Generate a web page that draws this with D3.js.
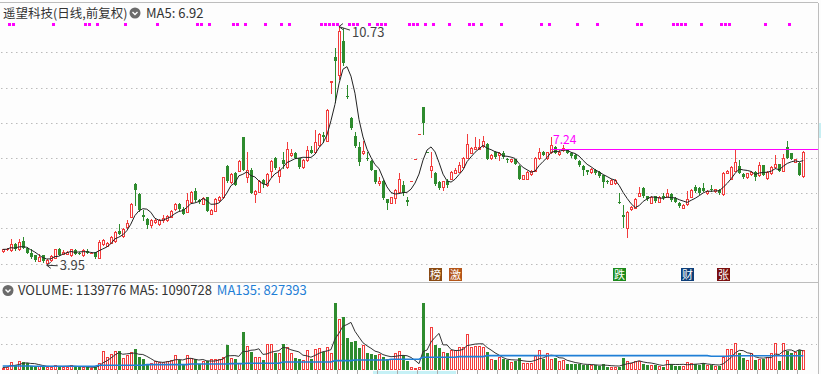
<!DOCTYPE html>
<html>
<head>
<meta charset="utf-8">
<script src="https://cdn.jsdelivr.net/npm/d3@7"></script>
<style>
  body { margin: 0; background: #fdfdfd; }
  svg { display: block; font-family: "Noto Sans CJK SC", "Noto Sans", sans-serif; }
</style>
</head>
<body>
<svg id="chart" width="821" height="374"></svg>
<script>
// Daily candles, forward adjusted
var opens = [4.35,4.40,4.38,4.55,4.40,4.64,4.44,4.31,4.23,4.08, 4.23,4.02,4.09,4.17,4.42,4.28,4.28,4.24,4.38,4.31,
  4.23,4.36,4.31,4.32,4.17,4.55,4.51,4.59,4.64,4.93, 4.78,5.03,5.33,6.26,5.97,5.38,5.27,5.10,5.18,5.12,
  5.23,5.23,5.33,5.55,5.70,5.56,5.47,5.75,6.05,5.80, 5.70,5.88,5.42,5.50,5.80,5.88,6.77,6.32,6.58,6.64,
  7.58,6.45,6.67,5.97,6.04,6.37,6.22,6.64,6.99,6.48, 6.94,6.73,7.07,7.13,6.99,6.73,6.94,7.22,7.17,7.36,
  7.65,7.49,9.17,9.86,9.36,10.33,8.76,8.14,7.62,7.30, 7.13,7.00,6.92,6.65,6.28,6.35,5.82,5.73,5.85,6.04,
  6.23,5.80,6.33,6.96,7.67,8.44,7.18,6.66,6.58,6.32, 6.18,6.33,6.41,6.58,6.61,6.75,7.01,7.15,7.26,7.26,
  7.34,7.39,7.00,7.16,7.07,7.13,6.97,6.90,6.96,6.77, 6.41,6.41,6.55,6.64,7.00,7.18,7.00,7.16,7.32,7.10,
  7.22,7.22,7.15,7.08,6.92,6.77,6.65,6.60,6.67,6.60, 6.50,6.35,6.27,6.28,5.75,5.37,5.02,5.54,5.59,5.93,
  6.14,5.91,5.73,5.91,5.76,5.91,5.90,5.97,5.86,5.72, 5.59,5.69,5.90,6.18,6.14,6.14,5.99,6.12,6.05,6.10,
  5.97,6.58,6.41,6.64,6.77,6.54,6.46,6.54,6.60,6.50, 6.79,6.43,6.56,6.73,6.82,6.64,7.30,7.13,6.89,6.86,
  6.48];
var highs = [4.42,4.44,4.69,4.58,4.71,4.76,4.46,4.40,4.25,4.26, 4.25,4.13,4.23,4.42,4.45,4.37,4.35,4.42,4.41,4.33,
  4.40,4.40,4.33,4.34,4.66,4.71,4.62,4.79,4.92,5.12, 5.01,5.25,5.71,6.29,5.99,5.52,5.29,5.27,5.28,5.27,
  5.37,5.37,5.52,5.73,5.72,5.60,5.99,6.06,6.14,5.82, 5.90,5.90,5.55,5.85,5.93,6.47,6.79,6.56,6.61,6.93,
  7.60,7.16,6.70,6.08,6.36,6.40,6.56,6.93,7.02,6.75, 7.18,7.46,7.24,7.16,7.01,6.96,7.33,7.35,7.79,7.71,
  7.74,8.38,9.19,10.11,10.73,10.70,9.07,8.16,7.74,7.46, 7.49,7.17,6.94,6.67,6.46,6.37,5.84,5.90,6.12,6.56,
  6.34,5.90,6.33,6.96,7.67,8.44,7.18,7.17,6.60,6.34, 6.35,6.40,6.62,6.70,6.89,7.02,7.68,7.30,7.58,7.55,
  7.62,7.42,7.10,7.20,7.18,7.20,6.99,6.98,6.98,6.79, 6.52,6.62,6.65,7.02,7.28,7.20,7.18,7.58,7.34,7.24,
  7.36,7.25,7.17,7.10,6.94,6.79,6.67,6.71,6.69,6.62, 6.52,6.37,6.39,6.39,5.99,5.65,5.48,5.63,5.86,6.16,
  6.16,5.93,5.92,5.93,5.92,6.00,6.12,5.99,5.88,5.74, 5.69,6.07,6.12,6.23,6.16,6.28,6.09,6.24,6.13,6.12,
  6.60,6.65,6.77,7.25,6.94,6.56,6.58,6.62,6.62,6.89, 6.81,6.62,6.77,7.07,6.84,7.10,7.49,7.15,6.98,6.88,
  7.20];
var lows = [4.33,4.38,4.36,4.38,4.38,4.43,4.29,4.17,4.07,4.06, 4.04,3.95,4.07,4.15,4.23,4.26,4.26,4.22,4.26,4.28,
  4.21,4.29,4.29,4.17,4.15,4.52,4.49,4.57,4.62,4.83, 4.76,5.01,5.31,5.66,5.50,5.23,5.02,5.04,5.15,5.10,
  5.17,5.21,5.31,5.53,5.53,5.40,5.45,5.73,5.78,5.72, 5.68,5.48,5.40,5.48,5.78,5.86,6.31,6.30,6.22,6.62,
  6.65,6.32,5.99,5.75,6.02,6.18,6.20,6.46,6.69,6.32, 6.70,6.71,7.05,6.99,6.70,6.71,6.92,7.13,7.15,7.34,
  7.46,7.47,8.83,8.60,9.25,9.65,8.70,7.82,7.32,6.80, 7.11,6.94,6.65,6.30,6.23,5.82,5.56,5.71,5.73,6.02,
  5.94,5.65,6.33,6.96,7.67,7.69,7.18,6.46,6.24,6.13, 6.09,6.18,6.39,6.56,6.59,6.73,6.99,7.13,7.24,7.24,
  7.32,6.96,6.98,7.01,6.94,7.01,6.89,6.88,6.82,6.39, 6.39,6.39,6.50,6.62,6.98,7.07,6.98,7.14,7.13,7.08,
  7.20,7.13,7.03,6.96,6.77,6.51,6.54,6.58,6.54,6.46, 6.18,6.29,6.25,6.26,5.73,5.04,4.76,5.52,5.57,5.91,
  5.89,5.80,5.71,5.76,5.74,5.84,5.88,5.78,5.74,5.61, 5.57,5.67,5.88,6.03,5.97,6.05,5.97,6.06,6.03,5.97,
  5.95,6.56,6.39,6.62,6.56,6.43,6.44,6.52,6.37,6.48, 6.50,6.41,6.54,6.71,6.62,6.62,6.99,6.96,6.87,6.50,
  6.45];
var closes = [4.40,4.41,4.54,4.40,4.60,4.45,4.31,4.19,4.09,4.19, 4.06,4.11,4.21,4.40,4.25,4.34,4.32,4.40,4.28,4.30,
  4.38,4.31,4.31,4.19,4.60,4.66,4.58,4.76,4.89,4.85, 4.99,5.16,5.69,6.10,5.52,5.31,5.10,5.25,5.25,5.25,
  5.29,5.35,5.50,5.69,5.55,5.42,5.80,6.04,5.80,5.74, 5.85,5.50,5.52,5.82,5.90,6.45,6.33,6.54,6.24,6.90,
  6.67,6.67,6.01,6.05,6.33,6.25,6.54,6.90,6.71,6.67, 6.82,7.24,7.15,7.01,6.75,6.94,7.22,7.15,7.45,7.68,
  7.60,8.36,9.19,9.76,10.60,9.69,8.72,7.84,7.34,6.89, 7.19,6.98,6.67,6.32,6.33,5.85,5.71,5.88,6.10,6.39,
  5.99,5.75,6.33,6.96,7.67,7.98,7.18,6.77,6.26,6.15, 6.33,6.22,6.60,6.67,6.81,7.00,7.39,7.28,7.32,7.30,
  7.49,6.98,7.08,7.03,7.15,7.03,6.94,6.96,6.84,6.41, 6.50,6.60,6.62,7.00,7.18,7.09,7.16,7.36,7.15,7.16,
  7.28,7.15,7.05,6.98,6.79,6.67,6.60,6.69,6.56,6.48, 6.31,6.31,6.37,6.37,5.73,5.31,5.46,5.61,5.84,6.00,
  5.91,5.82,5.90,5.78,5.90,5.86,6.01,5.80,5.76,5.63, 5.67,5.82,6.10,6.05,5.99,6.07,6.07,6.08,6.11,5.99,
  6.58,6.63,6.75,6.88,6.58,6.45,6.56,6.60,6.46,6.79, 6.52,6.60,6.75,6.82,6.64,7.01,7.00,6.97,6.96,6.52,
  7.17];
var volumes = [150000,210000,450000,300000,510000,470000,400000,260000,250000,250000,
  210000,170000,210000,280000,250000,190000,210000,280000,210000,170000,
  170000,170000,150000,210000,430000,1110000,770000,920000,1080000,1090000,
  680000,890000,1040000,1190000,740000,620000,360000,400000,510000,490000,
  490000,510000,580000,890000,580000,360000,890000,680000,620000,360000,
  510000,510000,620000,620000,660000,740000,1430000,680000,660000,430000,
  2170000,1380000,1040000,750000,750000,580000,1510000,1510000,1000000,960000,
  1510000,1340000,1000000,700000,660000,580000,1150000,620000,1190000,1250000,
  1060000,1340000,1000000,4200000,2890000,3040000,1810000,1620000,1680000,1250000,
  1430000,960000,920000,870000,920000,770000,620000,660000,960000,1110000,
  870000,530000,170000,130000,170000,4300000,960000,2470000,1430000,1280000,
  1060000,960000,1150000,1150000,1300000,1340000,2060000,1340000,1380000,1380000,
  1340000,1020000,620000,580000,740000,620000,580000,470000,510000,700000,
  430000,430000,430000,810000,1150000,660000,1000000,660000,680000,550000,
  580000,360000,360000,360000,360000,320000,280000,320000,280000,250000,
  360000,210000,210000,210000,210000,700000,510000,430000,510000,550000,
  360000,320000,320000,280000,250000,210000,580000,360000,250000,250000,
  250000,470000,400000,360000,320000,430000,280000,280000,250000,250000,
  770000,1190000,1190000,1530000,960000,700000,580000,1000000,580000,660000,
  620000,740000,1000000,1570000,550000,1530000,1098000,1002000,1051000,1162864,
  1139776];

// MA135 of volume (start index, value)
var ma135Start = [0, 8, 24, 36, 47, 57, 61, 70, 83, 88, 97, 105, 114, 121, 177, 182];
var ma135Value = [245000, 226000, 283000, 320000, 358000, 377000, 396000, 470000, 547000,
  585000, 623000, 736000, 774000, 830000, 792000, 827393];

// magenta signal squares on top (candle index)
var signalIdx = [1, 2, 12, 20, 21, 23, 30, 38, 48, 49, 51, 57, 58, 60, 65,
  69, 71, 79, 80, 81, 82, 83, 86, 87, 88, 91, 93, 94, 95, 101, 102, 103, 105, 107,
  111, 116, 117, 119, 124, 134, 136, 143, 148, 158, 159, 167, 168, 169, 170, 174,
  179, 180, 181, 190, 196];

// event badges under the candles
var eventIdx = [108, 113, 154, 171, 180];
var eventText = ["榜", "激", "跌", "财", "张"];
var eventColor = ["#8a4a12", "#b4561a", "#1b8a1b", "#0d3f7a", "#7a0f0f"];

var lineLevel = 7.24, lineStart = 137;

var RED = "#f23c3c", GREEN = "#2e8b2e", BG = "#fdfdfd";

var svg = d3.select("#chart"),
    width = +svg.attr("width"),
    height = +svg.attr("height");

var N = closes.length;
var x = d3.scaleLinear().domain([0, N - 1]).range([2.7, 803.3]);
var y = d3.scaleLinear().domain([4, 10]).range([263.5, 52.3]);
var yv = d3.scaleLinear().domain([0, 3e6]).range([370.3, 317.3]);

function cx(i) { return Math.round(x(i)); }

function isUp(i) {
    if (closes[i] > opens[i]) return true;
    if (closes[i] < opens[i]) return false;
    return i === 0 || closes[i] >= closes[i - 1];
}

function movingAvg(arr, n) {
    return arr.map(function (d, i) {
        return d3.mean(arr.slice(Math.max(0, i - n + 1), i + 1));
    });
}

var ma5 = movingAvg(closes, 5);
var vma5 = movingAvg(volumes, 5);
var vma135 = volumes.map(function (d, i) {
    var k = d3.bisectRight(ma135Start, i) - 1;
    return ma135Value[k];
});

svg.append("rect").attr("width", width).attr("height", height).attr("fill", BG);

// frame
var frame = svg.append("g").attr("stroke", "#bdbdbd").attr("shape-rendering", "crispEdges");
frame.append("line").attr("x1", 0).attr("x2", 818).attr("y1", 2.5).attr("y2", 2.5);
frame.append("line").attr("x1", 818.5).attr("x2", 818.5).attr("y1", 2.5).attr("y2", height);
frame.append("line").attr("x1", 0).attr("x2", 818).attr("y1", 282.5).attr("y2", 282.5);
svg.append("rect").attr("x", 819).attr("y", 123).attr("width", 3).attr("height", 15).attr("fill", "#c8eff3");

// grid
var grid = svg.append("g").attr("stroke", "#bbb").attr("stroke-dasharray", "1.5,3.5");
grid.selectAll(".gp").data(d3.range(4, 11)).enter().append("line")
    .attr("x1", 1).attr("x2", 817)
    .attr("y1", function (d) { return Math.round(y(d)) + 0.5; })
    .attr("y2", function (d) { return Math.round(y(d)) + 0.5; });
grid.selectAll(".gv").data([1.5e6, 3e6]).enter().append("line")
    .attr("x1", 1).attr("x2", 817)
    .attr("y1", function (d) { return Math.round(yv(d)) + 0.5; })
    .attr("y2", function (d) { return Math.round(yv(d)) + 0.5; });

// weekly ticks at the bottom
svg.append("rect").attr("x", 373).attr("y", 371).attr("width", 83).attr("height", 3).attr("fill", "#c6f1f6");
svg.append("g").selectAll("line").data(d3.range(13, N, 5)).enter().append("line")
    .attr("x1", function (d) { return cx(d) + 2.5; })
    .attr("x2", function (d) { return cx(d) + 2.5; })
    .attr("y1", 370).attr("y2", 374)
    .attr("stroke", "#aaa");

// candles
var candles = svg.append("g").attr("class", "candles").attr("shape-rendering", "crispEdges");
d3.range(N).forEach(function (i) {
    var c = cx(i), up = isUp(i);
    var top = Math.round(y(Math.max(opens[i], closes[i])));
    var bot = Math.round(y(Math.min(opens[i], closes[i])));
    var hi = Math.round(y(highs[i])), lo = Math.round(y(lows[i]));
    var col = up ? RED : GREEN;
    if (up) {
        if (hi < top) candles.append("line").attr("x1", c + 0.5).attr("x2", c + 0.5)
            .attr("y1", hi).attr("y2", top).attr("stroke", col);
        if (lo > bot) candles.append("line").attr("x1", c + 0.5).attr("x2", c + 0.5)
            .attr("y1", bot + 1).attr("y2", lo + 1).attr("stroke", col);
        if (bot - top < 2) {
            candles.append("rect").attr("x", c - 1).attr("y", top).attr("width", 3)
                .attr("height", Math.max(1, bot - top + 1)).attr("fill", col);
        } else {
            candles.append("rect").attr("x", c - 0.5).attr("y", top + 0.5).attr("width", 2)
                .attr("height", bot - top).attr("fill", BG).attr("stroke", col);
        }
    } else {
        candles.append("line").attr("x1", c + 0.5).attr("x2", c + 0.5)
            .attr("y1", hi).attr("y2", lo + 1).attr("stroke", col);
        candles.append("rect").attr("x", c - 1).attr("y", top).attr("width", 3)
            .attr("height", Math.max(1, bot - top)).attr("fill", col);
    }
});

// MA5 of price
svg.append("path")
    .attr("d", d3.line().x(function (d, i) { return x(i); }).y(function (d) { return y(d); })(ma5))
    .attr("fill", "none").attr("stroke", "#222").attr("stroke-width", 1);

// signal squares
svg.append("g").selectAll("rect").data(signalIdx).enter().append("rect")
    .attr("x", function (d) { return cx(d) + 1; })
    .attr("y", 23).attr("width", 3).attr("height", 3)
    .attr("fill", "#ff00ff");

// horizontal level
svg.append("line")
    .attr("x1", cx(lineStart)).attr("x2", 818)
    .attr("y1", Math.round(y(lineLevel)) + 0.5).attr("y2", Math.round(y(lineLevel)) + 0.5)
    .attr("stroke", "#ff00ff").attr("shape-rendering", "crispEdges");
svg.append("text")
    .attr("x", cx(lineStart) + 2).attr("y", y(lineLevel) - 5)
    .attr("font-size", 12).attr("fill", "#ff00ff")
    .text(lineLevel.toFixed(2));

// max / min labels
function markExtreme(idx, value, above) {
    var tx = x(idx), ty = y(value);
    var g = svg.append("g").attr("stroke", "#333").attr("fill", "none");
    var ex = tx + 11, ey = ty + (above ? 3.5 : 0.5);
    g.append("path").attr("d", "M" + tx + "," + ty + "L" + ex + "," + ey);
    g.append("path").attr("d", "M" + (tx + 4) + "," + (ty - 3) + "L" + tx + "," + ty + "L" + (tx + 4) + "," + (ty + 3));
    svg.append("text").attr("x", ex + 2).attr("y", ey + (above ? 6.5 : 4.5))
        .attr("font-size", 13).attr("fill", "#444")
        .text(value.toFixed(2));
}
var hiIdx = d3.maxIndex(highs), loIdx = d3.minIndex(lows);
markExtreme(hiIdx, highs[hiIdx], true);
markExtreme(loIdx, lows[loIdx], false);

// event badges
var badges = svg.append("g").selectAll("g").data(eventIdx).enter().append("g");
badges.append("rect")
    .attr("x", function (d) { return cx(d) - 6; }).attr("y", 268)
    .attr("width", 13).attr("height", 13)
    .attr("fill", function (d, i) { return eventColor[i]; });
badges.append("text")
    .attr("x", function (d) { return cx(d) + 0.5; }).attr("y", 279)
    .attr("text-anchor", "middle").attr("font-size", 11).attr("fill", "#fff")
    .text(function (d, i) { return eventText[i]; });

// volume bars
svg.append("clipPath").attr("id", "vclip").append("rect")
    .attr("x", 0).attr("y", 303).attr("width", 818).attr("height", 70);
var vol = svg.append("g").attr("clip-path", "url(#vclip)").attr("shape-rendering", "crispEdges");
d3.range(N).forEach(function (i) {
    var c = cx(i), up = isUp(i);
    var top = Math.round(yv(volumes[i])), base = Math.round(yv(0));
    if (up) {
        vol.append("rect").attr("x", c - 0.5).attr("y", top + 0.5).attr("width", 2)
            .attr("height", Math.max(1, base - top - 1)).attr("fill", BG).attr("stroke", RED);
    } else {
        vol.append("rect").attr("x", c - 1).attr("y", top).attr("width", 3)
            .attr("height", base - top).attr("fill", GREEN);
    }
});
var vline = d3.line().x(function (d, i) { return x(i); }).y(function (d) { return yv(d); });
vol.append("path").attr("d", vline(vma5)).attr("fill", "none").attr("stroke", "#333").attr("stroke-width", 1)
    .attr("shape-rendering", "auto");
vol.append("path").attr("d", vline(vma135)).attr("fill", "none").attr("stroke", "#1f7fd6").attr("stroke-width", 1.6)
    .attr("shape-rendering", "auto");

// headers
function chevronIcon(px, py) {
    svg.append("circle").attr("cx", px).attr("cy", py).attr("r", 5.5).attr("fill", "#6b6b6b");
    svg.append("path").attr("d", "M" + (px - 2.5) + "," + (py - 1) + "L" + px + "," + (py + 1.5) + "L" + (px + 2.5) + "," + (py - 1))
        .attr("fill", "none").attr("stroke", "#fff").attr("stroke-width", 1.4);
}
svg.append("text").attr("x", 3).attr("y", 17.5).attr("font-size", 12.5).attr("fill", "#333")
    .text("遥望科技(日线,前复权)");
chevronIcon(135, 13);
svg.append("text").attr("x", 146).attr("y", 17.5).attr("font-size", 13).attr("fill", "#333")
    .text("MA5: " + ma5[N - 1].toFixed(2));

chevronIcon(8, 290.5);
var vh = svg.append("text").attr("x", 18).attr("y", 295).attr("font-size", 13).attr("fill", "#333");
vh.append("tspan").text("VOLUME: " + volumes[N - 1] + " MA5: " + Math.round(vma5[N - 1]));
vh.append("tspan").attr("dx", 5).attr("fill", "#1f7fd6").text("MA135: " + vma135[N - 1]);
</script>
</body>
</html>
